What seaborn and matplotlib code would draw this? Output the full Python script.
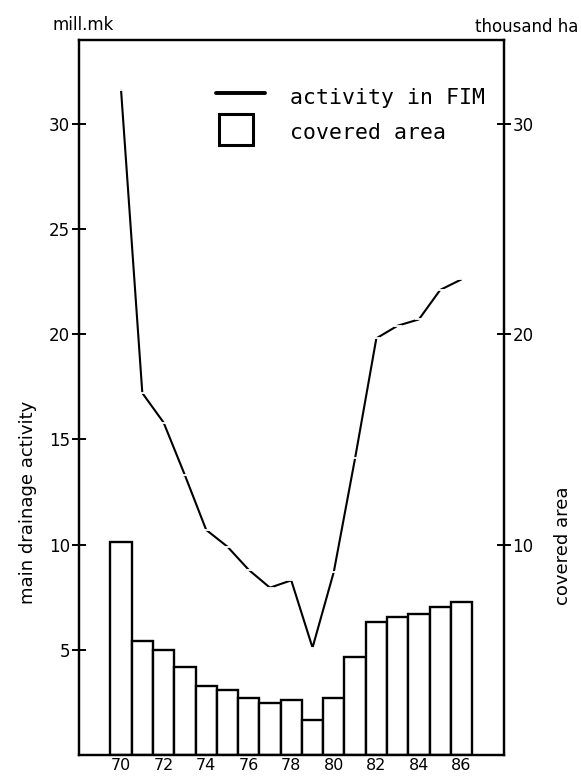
import matplotlib
matplotlib.use("Agg")
import matplotlib.pyplot as plt
from matplotlib import font_manager
from matplotlib.lines import Line2D
from matplotlib.patches import Rectangle
import seaborn as sns
import pandas as pd

# Main drainage in Finland, 1970-1986
years = [70, 71, 72, 73, 74, 75, 76, 77, 78, 79, 80, 81, 82, 83, 84, 85, 86]
activity_mill_mk = [31.6, 17.2, 15.8, 13.3, 10.7, 9.9, 8.8, 7.95, 8.3, 5.1,
                    8.7, 14.1, 19.8, 20.4, 20.7, 22.1, 22.6]
covered_area_kha = [10.1, 5.4, 5.0, 4.2, 3.3, 3.1, 2.7, 2.45, 2.6, 1.65,
                    2.7, 4.65, 6.3, 6.55, 6.7, 7.05, 7.25]
year_ticks = [70, 72, 74, 76, 78, 80, 82, 84, 86]
left_ticks = [5, 10, 15, 20, 25, 30]
right_ticks = [10, 20, 30]

df = pd.DataFrame({"year": years, "activity": activity_mill_mk,
                   "area": covered_area_kha})

sns.set_style("white")
installed = {f.name for f in font_manager.fontManager.ttflist}
label_font = next((n for n in ["DejaVu Sans Condensed", "Liberation Sans Narrow",
                               "DejaVu Sans"] if n in installed), "DejaVu Sans")
plt.rcParams["font.family"] = [label_font, "DejaVu Sans"]
plt.rcParams["text.color"] = "black"
plt.rcParams["xtick.color"] = "black"
plt.rcParams["ytick.color"] = "black"
plt.rcParams["xtick.labelcolor"] = "black"
plt.rcParams["ytick.labelcolor"] = "black"
mono = ["DejaVu Sans Mono", "Liberation Mono"]

W, H = 581, 778
fig = plt.figure(figsize=(W / 100, H / 100), dpi=100)
fig.patch.set_facecolor("white")

left, right, top, bottom = 78.5, 504.0, 39.5, 755.0
ax = fig.add_axes([left / W, 1 - bottom / H, (right - left) / W, (bottom - top) / H])
ax_r = ax.twinx()

# covered area as bars on the right-hand axis
sns.barplot(data=df, x="year", y="area", native_scale=True, width=1.0,
            color="white", edgecolor="black", linewidth=1.7, errorbar=None,
            ax=ax_r)

# drainage activity as a line on the left-hand axis
sns.lineplot(data=df, x="year", y="activity", color="black", linewidth=1.5,
             marker="_", markersize=6, markeredgewidth=1.3, ax=ax)

ax.set_zorder(ax_r.get_zorder() + 1)
ax.patch.set_visible(False)

for a in (ax, ax_r):
    a.set_xlim(68, 88)
    a.set_ylim(0, 34)
    a.set_xlabel("")
    a.set_ylabel("")
    for s in a.spines.values():
        s.set_visible(True)
        s.set_linewidth(1.6)
        s.set_color("black")

ax.set_xticks(year_ticks)
ax.set_xticklabels([str(y) for y in year_ticks])
ax.set_yticks(left_ticks)
ax.set_yticklabels([str(v) for v in left_ticks])
ax_r.set_yticks(right_ticks)
ax_r.set_yticklabels([str(v) for v in right_ticks])

ax.tick_params(axis="x", length=0, pad=2, labelsize=11.5)
ax.tick_params(axis="y", direction="inout", length=10, width=1.4, pad=1,
               labelsize=12, left=True)
ax_r.tick_params(axis="y", direction="inout", length=10, width=1.4, pad=1,
                 labelsize=12, right=True)

# axis titles
fig.text(28 / W, 1 - 502 / H, "main drainage activity", rotation=90,
         ha="center", va="center", fontsize=13)
fig.text(563 / W, 1 - 546 / H, "covered area", rotation=90,
         ha="center", va="center", fontsize=13)
fig.text(83 / W, 1 - 25 / H, "mill.mk", ha="center", va="center", fontsize=12)
fig.text(578 / W, 1 - 27 / H, "thousand ha", ha="right", va="center", fontsize=12)

# legend
fig.add_artist(Line2D([216 / W, 265 / W], [1 - 93 / H, 1 - 93 / H],
                      color="black", linewidth=2.8, transform=fig.transFigure))
fig.add_artist(Rectangle((219 / W, 1 - 145 / H), 34 / W, 31 / H,
                         facecolor="white", edgecolor="black", linewidth=2.2,
                         transform=fig.transFigure))
fig.text(290 / W, 1 - 98 / H, "activity in FIM", family=mono,
         ha="left", va="center", fontsize=15.5)
fig.text(290 / W, 1 - 133 / H, "covered area", family=mono,
         ha="left", va="center", fontsize=15.5)

fig.savefig("out.png", dpi=100, facecolor="white")
